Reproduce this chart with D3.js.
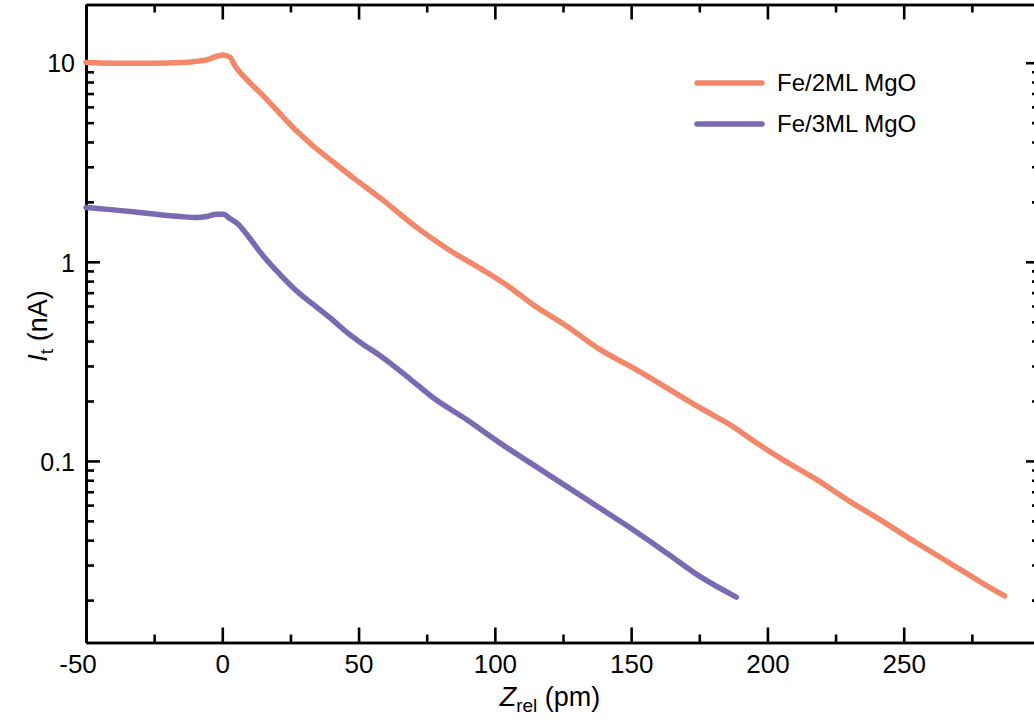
<!DOCTYPE html>
<html>
<head>
<meta charset="utf-8">
<script src="https://cdn.jsdelivr.net/npm/d3@7"></script>
<style>
  html, body { margin: 0; padding: 0; background: #fff; }
  svg { display: block; }
  text { font-family: "Liberation Sans", Arial, sans-serif; fill: #000; }
</style>
</head>
<body>
<svg id="chart" width="1034" height="719"></svg>
<script>
// ---- data ----
const seriesNames = ["Fe/2ML MgO", "Fe/3ML MgO"];
const seriesColors = ["#F2876A", "#7A6AB2"];

const z2ML = [-50, -40.1, -30.2, -19.9, -10.8, -5.6, -2.0, 0.2, 2.8, 4.65, 9.4, 15.6, 21.9, 27.8, 34.0, 40.2, 48.7, 58.6, 70.7, 82.8, 95.2, 104.8, 113.9, 126.4, 138.5, 150.6, 163.1, 175.2, 187.3, 196.1, 205.6, 218.1, 230.2, 242.3, 254.8, 266.9, 279.0, 287.0];
const i2ML = [10.02, 9.94, 9.93, 9.97, 10.12, 10.35, 10.77, 10.93, 10.65, 9.66, 8.12, 6.70, 5.41, 4.47, 3.75, 3.21, 2.60, 2.06, 1.51, 1.156, 0.917, 0.756, 0.611, 0.475, 0.363, 0.294, 0.233, 0.185, 0.149, 0.123, 0.1015, 0.0805, 0.0626, 0.0497, 0.0387, 0.0307, 0.0243, 0.0210];

const z3ML = [-50, -40.0, -27.7, -15.5, -9.4, -5.7, -2.1, 0.35, 2.81, 5.86, 8.94, 15.03, 21.15, 27.27, 33.36, 39.49, 45.61, 51.70, 57.82, 68.83, 77.4, 89.6, 101.8, 114.0, 126.3, 138.5, 150.7, 163.0, 175.2, 188.6];
const i3ML = [1.874, 1.823, 1.754, 1.688, 1.668, 1.688, 1.734, 1.734, 1.649, 1.544, 1.375, 1.070, 0.865, 0.713, 0.611, 0.524, 0.4434, 0.3846, 0.3386, 0.2585, 0.2075, 0.1614, 0.1232, 0.0958, 0.0745, 0.058, 0.0451, 0.0345, 0.0263, 0.0207];

const xMajorTicks = [-50, 0, 50, 100, 150, 200, 250, 300];
const xTickLabels = ["-50", "0", "50", "100", "150", "200", "250", ""];
const xMinorTicks = [-25, 25, 75, 125, 175, 225, 275];
const yMajorTicks = [10, 1, 0.1];
const yTickLabels = ["10", "1", "0.1"];
const yMinorTicks = [0.02, 0.03, 0.04, 0.05, 0.06, 0.07, 0.08, 0.09,
                     0.2, 0.3, 0.4, 0.5, 0.6, 0.7, 0.8, 0.9,
                     2, 3, 4, 5, 6, 7, 8, 9];

// ---- layout ----
const svg = d3.select("#chart");
const mLeft = 86, mRight = 1040, mTop = 4.5, mBottom = 642.5;

const x = d3.scaleLinear().domain([-50, 300]).range([mLeft, mRight]);
const y = d3.scaleLog().domain([0.01225, 19.6]).range([mBottom, mTop]);

const axisStroke = 2.6;

function styleAxis(g, fs) {
  g.selectAll("path.domain").attr("stroke", "#000").attr("stroke-width", axisStroke);
  g.selectAll(".tick line").attr("stroke", "#000").attr("stroke-width", axisStroke);
  g.selectAll(".tick text").attr("font-size", fs || 25)
    .attr("font-family", '"Liberation Sans", Arial, sans-serif').attr("fill", "#000");
}

// bottom axis
const gB = svg.append("g").attr("transform", `translate(0,${mBottom})`)
  .call(d3.axisBottom(x).tickValues(xMajorTicks).tickSize(-15).tickSizeOuter(0)
    .tickPadding(12.5).tickFormat((d, i) => xTickLabels[i]));
styleAxis(gB, 26);
gB.selectAll(".tick text").filter(d => d < 0).attr("dx", -8.5);
const gBm = svg.append("g").attr("transform", `translate(0,${mBottom})`)
  .call(d3.axisBottom(x).tickValues(xMinorTicks).tickSize(-8).tickSizeOuter(0).tickFormat(""));
styleAxis(gBm);

// top axis
const gT = svg.append("g").attr("transform", `translate(0,${mTop})`)
  .call(d3.axisTop(x).tickValues(xMajorTicks).tickSize(-15).tickSizeOuter(0).tickFormat(""));
styleAxis(gT);
const gTm = svg.append("g").attr("transform", `translate(0,${mTop})`)
  .call(d3.axisTop(x).tickValues(xMinorTicks).tickSize(-8).tickSizeOuter(0).tickFormat(""));
styleAxis(gTm);

// left axis
const gL = svg.append("g").attr("transform", `translate(${mLeft},0)`)
  .call(d3.axisLeft(y).tickValues(yMajorTicks).tickSize(-14).tickSizeOuter(0)
    .tickPadding(11).tickFormat((d, i) => yTickLabels[i]));
styleAxis(gL, 25);
gL.selectAll(".tick text").attr("dy", "0.37em");
const gLm = svg.append("g").attr("transform", `translate(${mLeft},0)`)
  .call(d3.axisLeft(y).tickValues(yMinorTicks).tickSize(-8).tickSizeOuter(0).tickFormat(""));
styleAxis(gLm);

// right axis
const gR = svg.append("g").attr("transform", `translate(${mRight},0)`)
  .call(d3.axisRight(y).tickValues(yMajorTicks).tickSize(-14).tickSizeOuter(0).tickFormat(""));
styleAxis(gR);
const gRm = svg.append("g").attr("transform", `translate(${mRight},0)`)
  .call(d3.axisRight(y).tickValues(yMinorTicks).tickSize(-8).tickSizeOuter(0).tickFormat(""));
styleAxis(gRm);

// ---- lines ----
const series = [
  { name: seriesNames[0], color: seriesColors[0], data: z2ML.map((z, i) => [z, i2ML[i]]) },
  { name: seriesNames[1], color: seriesColors[1], data: z3ML.map((z, i) => [z, i3ML[i]]) }
];
const line = d3.line().x(d => x(d[0])).y(d => y(d[1])).curve(d3.curveMonotoneX);

svg.append("g").selectAll("path").data(series).join("path")
  .attr("d", d => line(d.data))
  .attr("fill", "none")
  .attr("stroke", d => d.color)
  .attr("stroke-width", 5.5)
  .attr("stroke-linecap", "round")
  .attr("stroke-linejoin", "round");

// ---- legend ----
const legend = svg.append("g");
series.forEach((s, i) => {
  const ly = 83 + i * 41;
  legend.append("line").attr("x1", 697).attr("x2", 762).attr("y1", ly).attr("y2", ly)
    .attr("stroke", s.color).attr("stroke-width", 5.5).attr("stroke-linecap", "round");
  legend.append("text").attr("x", 777).attr("y", ly).attr("dy", "0.35em")
    .attr("font-size", 24).text(s.name);
});

// ---- axis titles ----
const xt = svg.append("text").attr("x", 550).attr("y", 706).attr("text-anchor", "middle")
  .attr("font-size", 27);
xt.append("tspan").attr("font-style", "italic").text("Z");
xt.append("tspan").attr("font-size", 19).attr("dy", 6).text("rel");
xt.append("tspan").attr("dy", -6).text(" (pm)");

const yt = svg.append("text").attr("transform", "translate(47,326) rotate(-90)")
  .attr("text-anchor", "middle").attr("font-size", 27);
yt.append("tspan").attr("font-style", "italic").text("I");
yt.append("tspan").attr("font-size", 19).attr("dy", 6).text("t");
yt.append("tspan").attr("dy", -6).text(" (nA)");
</script>
</body>
</html>
